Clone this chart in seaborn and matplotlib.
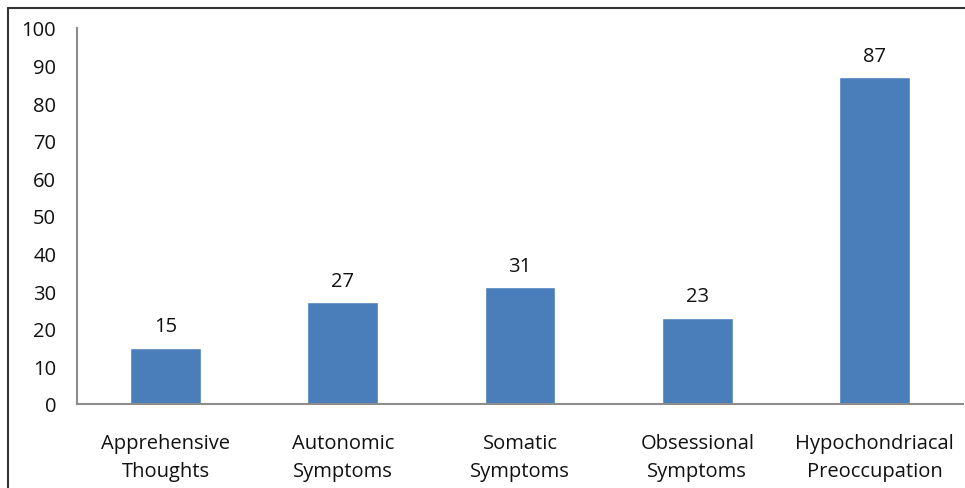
import matplotlib
matplotlib.use("Agg")
import matplotlib.pyplot as plt
from matplotlib.lines import Line2D
import seaborn as sns
import pandas as pd

categories = [
    "Apprehensive\nThoughts",
    "Autonomic\nSymptoms",
    "Somatic\nSymptoms",
    "Obsessional\nSymptoms",
    "Hypochondriacal\nPreoccupation",
]
values = [15, 27, 31, 23, 87]
y_ticks = [0, 10, 20, 30, 40, 50, 60, 70, 80, 90, 100]

sns.set_theme(style="white")
plt.rcParams["font.family"] = ["Open Sans", "DejaVu Sans"]

df = pd.DataFrame({"category": categories, "value": values})

fig = plt.figure(figsize=(9.65, 4.89), dpi=100)
ax = fig.add_axes([0.0798, 0.1718, 0.9182, 0.7689])

sns.barplot(data=df, x="category", y="value", color="#4A7EBB",
            width=0.4, saturation=1, ax=ax)

ax.set_ylim(0, 100)
ax.set_yticks(y_ticks)
ax.set_xlim(-0.5, len(categories) - 0.5)
ax.set_xlabel("")
ax.set_ylabel("")

for spine in ("top", "right"):
    ax.spines[spine].set_visible(False)
for spine in ("left", "bottom"):
    ax.spines[spine].set_color("#8C8C8C")
    ax.spines[spine].set_linewidth(1.5)

text_color = "#111111"
ax.tick_params(axis="y", length=0, pad=15, labelsize=14.5, labelcolor=text_color)
ax.tick_params(axis="x", length=0, pad=21, labelsize=14.5, labelcolor=text_color)
for lbl in ax.get_yticklabels() + ax.get_xticklabels():
    lbl.set_fontweight("medium")
for lbl in ax.get_xticklabels():
    lbl.set_linespacing(1.5)

for i, v in enumerate(values):
    ax.annotate(str(v), xy=(i, v), xytext=(0, 8), textcoords="offset points",
                ha="center", va="bottom", fontsize=14.5, fontweight="medium",
                color=text_color)

# frame lines along the top and left edges of the figure
fig.add_artist(Line2D([0.0083, 1.0], [0.9816, 0.9816], transform=fig.transFigure,
                      color="#333333", linewidth=1.5))
fig.add_artist(Line2D([0.0083, 0.0083], [0.0, 0.9816], transform=fig.transFigure,
                      color="#333333", linewidth=1.5))

fig.savefig("out.png", dpi=100)
